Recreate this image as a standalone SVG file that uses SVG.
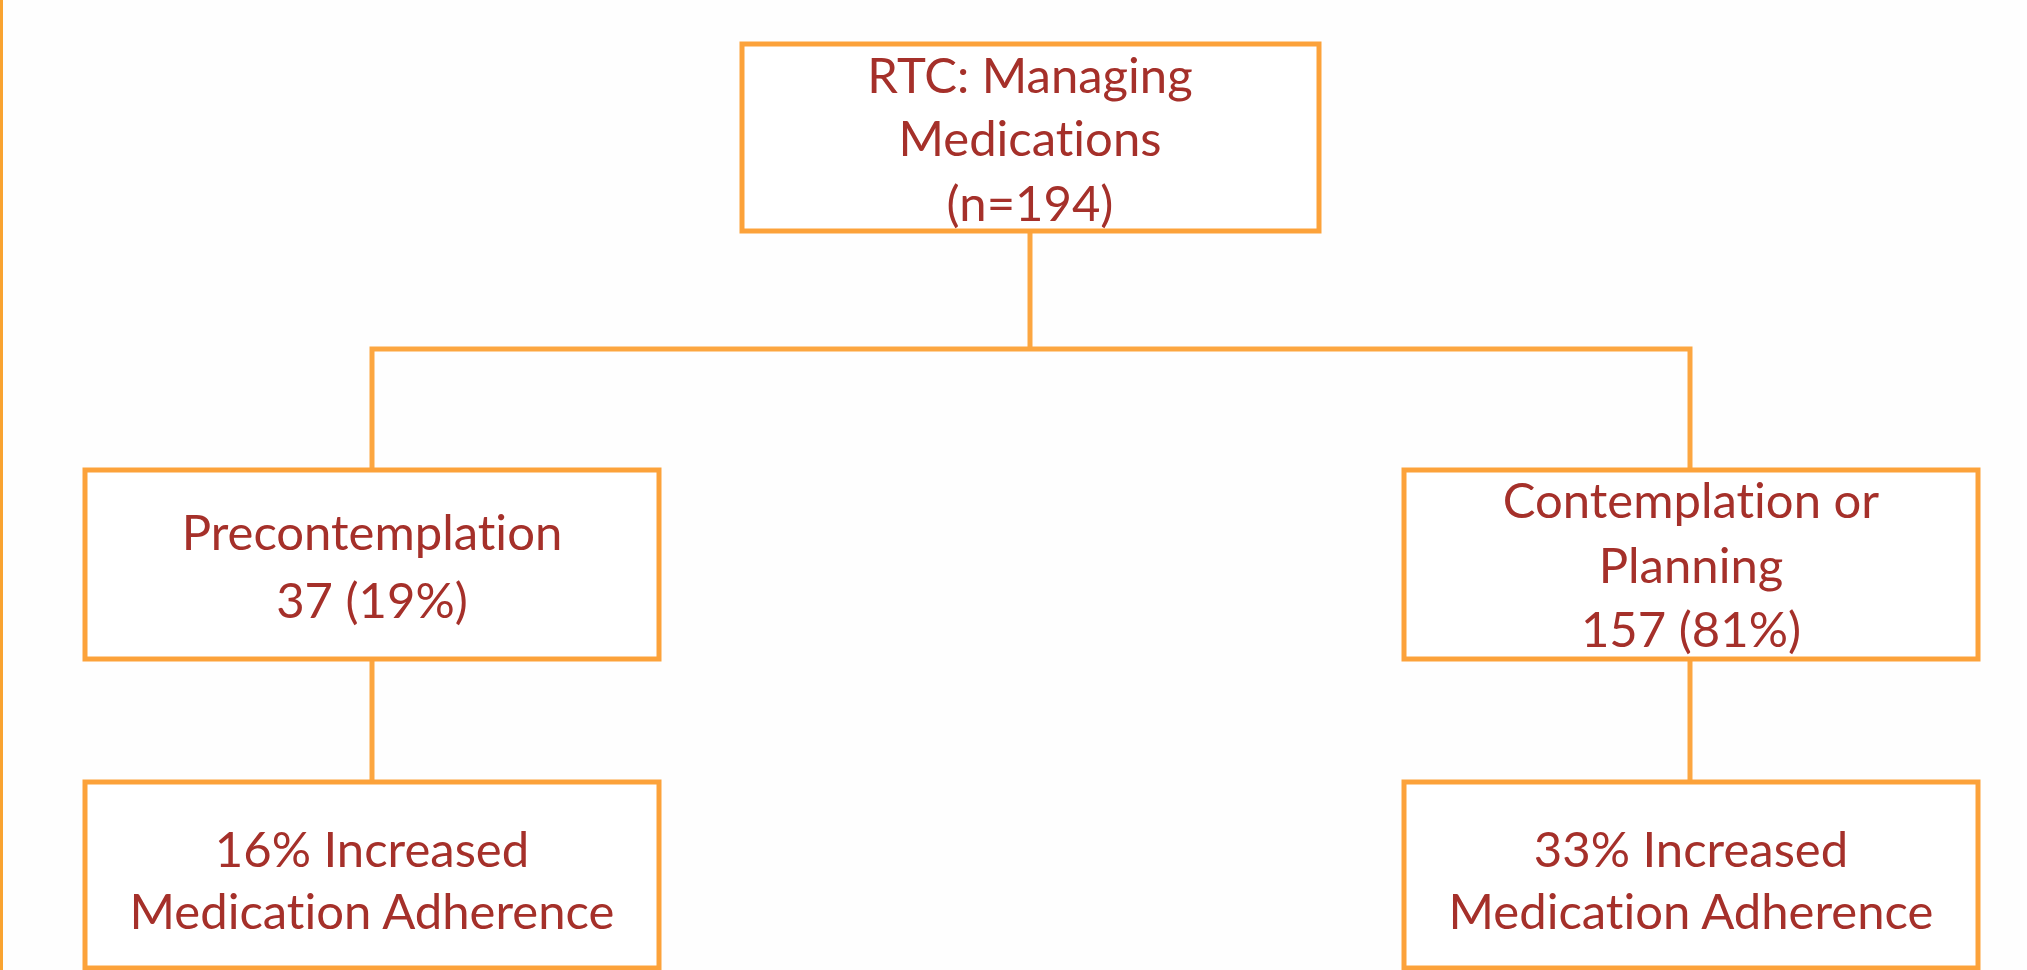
<svg xmlns="http://www.w3.org/2000/svg" width="2027" height="970" viewBox="0 0 2027 970">
<style>
.box{fill:#FFFFFF;stroke:#FCA23A;stroke-width:5}
.conn{fill:none;stroke:#FCA640;stroke-width:5}
.t{font-family:Lato,"Open Sans",sans-serif;font-size:49px;fill:#A5302A;text-anchor:middle;font-variant-ligatures:none}
</style>
<rect x="0" y="0" width="2027" height="970" fill="#FEFEFE"/>
<line x1="1.5" y1="0" x2="1.5" y2="970" stroke="#F9A330" stroke-width="3"/>
<g id="connectors">
<path class="conn" d="M1030 231 V349 M372 470 V349 H1690 V470 M372 659 V782 M1690 659 V782"/>
</g>
<g id="node-rtc">
<rect class="box" x="742" y="44" width="577" height="187"/>
<text class="t" x="1030" y="93">RTC: Managing</text>
<text class="t" x="1030" y="156">Medications</text>
<text class="t" x="1030" y="221">(n=194)</text>
</g>
<g id="node-pre">
<rect class="box" x="85" y="470" width="574" height="189"/>
<text class="t" x="372" y="550">Precontemplation</text>
<text class="t" x="372" y="618">37 (19%)</text>
</g>
<g id="node-cont">
<rect class="box" x="1404" y="470" width="574" height="189"/>
<text class="t" x="1691" y="518">Contemplation or</text>
<text class="t" x="1691" y="583">Planning</text>
<text class="t" x="1691" y="647">157 (81%)</text>
</g>
<g id="node-pre-out">
<rect class="box" x="85" y="782" width="574" height="186"/>
<text class="t" x="372" y="867">16% Increased</text>
<text class="t" x="372" y="929">Medication Adherence</text>
</g>
<g id="node-cont-out">
<rect class="box" x="1404" y="782" width="574" height="186"/>
<text class="t" x="1691" y="867">33% Increased</text>
<text class="t" x="1691" y="929">Medication Adherence</text>
</g>
</svg>
